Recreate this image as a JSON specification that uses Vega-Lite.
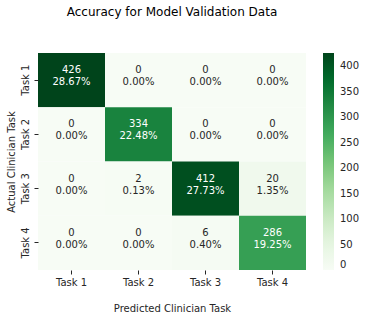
{
  "$schema": "https://vega.github.io/schema/vega-lite/v6.json",
  "autosize": "none",
  "width": 268,
  "height": 217,
  "padding": {"left": 38, "top": 53, "right": 60, "bottom": 50},
  "title": {"text": "Accuracy for Model Validation Data", "font": "DejaVu Sans", "fontSize": 12, "fontWeight": "normal", "color": "#000000", "offset": 34, "anchor": "middle"},
  "data": {"values": [
    {"actual": "Task 1", "pred": "Task 1", "n": 426, "pct": "28.67%"},
    {"actual": "Task 1", "pred": "Task 2", "n": 0, "pct": "0.00%"},
    {"actual": "Task 1", "pred": "Task 3", "n": 0, "pct": "0.00%"},
    {"actual": "Task 1", "pred": "Task 4", "n": 0, "pct": "0.00%"},
    {"actual": "Task 2", "pred": "Task 1", "n": 0, "pct": "0.00%"},
    {"actual": "Task 2", "pred": "Task 2", "n": 334, "pct": "22.48%"},
    {"actual": "Task 2", "pred": "Task 3", "n": 0, "pct": "0.00%"},
    {"actual": "Task 2", "pred": "Task 4", "n": 0, "pct": "0.00%"},
    {"actual": "Task 3", "pred": "Task 1", "n": 0, "pct": "0.00%"},
    {"actual": "Task 3", "pred": "Task 2", "n": 2, "pct": "0.13%"},
    {"actual": "Task 3", "pred": "Task 3", "n": 412, "pct": "27.73%"},
    {"actual": "Task 3", "pred": "Task 4", "n": 20, "pct": "1.35%"},
    {"actual": "Task 4", "pred": "Task 1", "n": 0, "pct": "0.00%"},
    {"actual": "Task 4", "pred": "Task 2", "n": 0, "pct": "0.00%"},
    {"actual": "Task 4", "pred": "Task 3", "n": 6, "pct": "0.40%"},
    {"actual": "Task 4", "pred": "Task 4", "n": 286, "pct": "19.25%"}
  ]},
  "encoding": {
    "x": {"field": "pred", "type": "nominal", "title": "Predicted Clinician Task",
      "scale": {"paddingInner": 0, "paddingOuter": 0},
      "axis": {"labelAngle": 0, "domain": false, "ticks": true, "tickColor": "#262626", "tickSize": 4, "labelFont": "DejaVu Sans", "labelFontSize": 10, "labelColor": "#262626", "titleFont": "DejaVu Sans", "titleFontSize": 10, "titleFontWeight": "normal", "titleColor": "#262626", "titlePadding": 16, "labelPadding": 3}},
    "y": {"field": "actual", "type": "nominal", "title": "Actual Clinician Task",
      "scale": {"paddingInner": 0, "paddingOuter": 0},
      "axis": {"labelAngle": -90, "labelAlign": "center", "labelBaseline": "bottom", "domain": false, "ticks": true, "tickColor": "#262626", "tickSize": 4, "labelFont": "DejaVu Sans", "labelFontSize": 10, "labelColor": "#262626", "titleFont": "DejaVu Sans", "titleFontSize": 10, "titleFontWeight": "normal", "titleColor": "#262626", "titlePadding": 4, "labelPadding": 4}}
  },
  "layer": [
    {"mark": {"type": "rect"},
     "encoding": {"color": {"field": "n", "type": "quantitative",
        "scale": {"domain": [0, 53.25, 106.5, 159.75, 213, 266.25, 319.5, 372.75, 426],
                  "range": ["#f7fcf5", "#e5f5e0", "#c7e9c0", "#a1d99b", "#74c476", "#41ab5d", "#238b45", "#006d2c", "#00441b"],
                  "interpolate": "rgb"},
        "legend": {"title": null, "orient": "right", "offset": 17, "gradientLength": 217, "gradientThickness": 11, "values": [0, 50, 100, 150, 200, 250, 300, 350, 400], "labelFont": "DejaVu Sans", "labelFontSize": 10, "labelColor": "#262626", "labelOffset": 6, "gradientStrokeWidth": 0}}}},
    {"mark": {"type": "text", "font": "DejaVu Sans", "fontSize": 10, "lineHeight": 12, "baseline": "middle", "dy": -10},
     "encoding": {
       "text": {"field": "label"},
       "color": {"condition": {"test": "datum.n > 150", "value": "#ffffff"}, "value": "#262626"}
     },
     "transform": [{"calculate": "[format(datum.n, 'd'), datum.pct]", "as": "label"}]}
  ],
  "config": {"view": {"stroke": null}}
}
